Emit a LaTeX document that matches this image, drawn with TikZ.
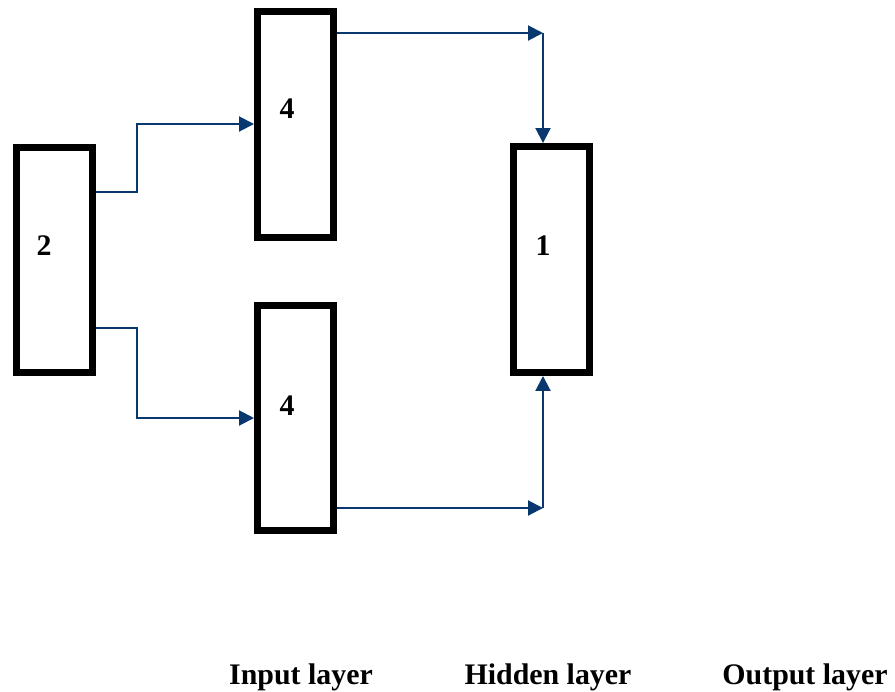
\documentclass[tikz,border=0pt]{standalone}
\usepackage{fontspec}
\setmainfont{Liberation Serif}
\usetikzlibrary{arrows.meta}
\definecolor{linkblue}{RGB}{8,56,110}
\tikzset{
  layerbox/.style={draw=black, line width=0.14cm, minimum width=1.52cm, minimum height=4.52cm, inner sep=0pt},
  link/.style={draw=linkblue, line width=0.04cm, -{Triangle[length=0.3cm,width=0.3cm]}},
  lbl/.style={font=\fontsize{17}{20}\selectfont\bfseries, anchor=base, inner sep=0pt},
}
\begin{document}
\begin{tikzpicture}[x=0.02cm, y=-0.02cm]
  \useasboundingbox (0,0) rectangle (895,691);

  % Cajas de las capas
  \node[layerbox] (box2) at (54.5,260) {};
  \node[layerbox] (box4a) at (295.5,124.5) {};
  \node[layerbox] (box4b) at (295.5,418) {};
  \node[layerbox] (box1) at (551.5,259.5) {};

  % Numeros de neuronas
  \node[lbl] (n2) at (44,255) {2};
  \node[lbl] (n4a) at (287,118) {4};
  \node[lbl] (n4b) at (287,415) {4};
  \node[lbl] (n1) at (543,255) {1};

  % Conexiones desde la caja 2
  \draw[link] (box2.east |- 0,192) -| (137,124) -- (box4a.west |- 0,124);
  \draw[link] (box2.east |- 0,328) -| (137,418) -- (box4b.west |- 0,418);

  % Conexiones hacia la caja 1
  \coordinate (jt) at (543,33);
  \coordinate (jb) at (543,508);
  \draw[link] (box4a.east |- jt) -- (jt);
  \draw[link] (jt) -- (box1.north -| jt);
  \draw[link] (box4b.east |- jb) -- (jb);
  \draw[link] (jb) -- (box1.south -| jb);

  % Nombres de las capas
  \node[lbl] (lin) at (301,684) {Input layer};
  \node[lbl] (lhid) at (548,684) {Hidden layer};
  \node[lbl] (lout) at (805,684) {Output layer};
\end{tikzpicture}
\end{document}
